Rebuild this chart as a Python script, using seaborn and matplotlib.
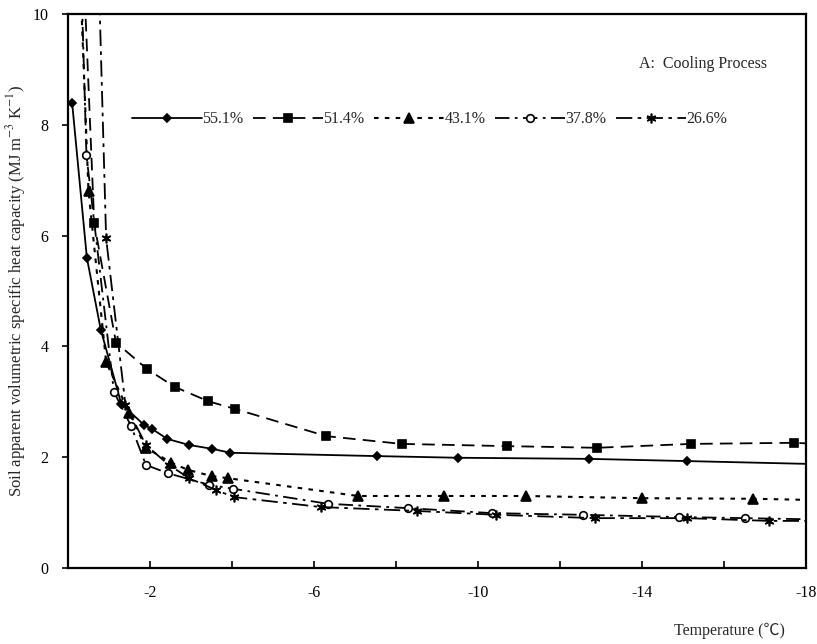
import matplotlib
matplotlib.use("Agg")
import matplotlib.pyplot as plt
import seaborn as sns
import pandas as pd
from matplotlib.ticker import FixedLocator

sns.set_theme(style="ticks")
plt.rcParams['font.family'] = ['Liberation Serif', 'Noto Sans CJK SC', 'DejaVu Sans']
plt.rcParams['mathtext.fontset'] = 'stix'

# ---- data ----
t_551 = [-0.1, -0.46, -0.8, -1.3, -1.86, -2.05, -2.42, -2.96, -3.52, -3.96, -7.53, -9.51, -12.7, -15.1, -18.0]
c_551 = [8.4, 5.6, 4.3, 2.96, 2.58, 2.51, 2.33, 2.22, 2.15, 2.08, 2.02, 1.99, 1.97, 1.93, 1.88]

t_514 = [-0.37, -0.64, -1.17, -1.93, -2.6, -3.42, -4.08, -6.3, -8.14, -10.7, -12.9, -15.2, -17.7, -18.0]
c_514 = [11.0, 6.22, 4.07, 3.59, 3.27, 3.01, 2.87, 2.38, 2.24, 2.20, 2.17, 2.24, 2.26, 2.25]

t_431 = [-0.28, -0.5, -0.93, -1.49, -1.9, -2.52, -2.93, -3.5, -3.91, -7.07, -9.17, -11.17, -14.0, -16.7, -18.0]
c_431 = [11.0, 6.8, 3.72, 2.80, 2.17, 1.90, 1.77, 1.66, 1.62, 1.30, 1.30, 1.30, 1.26, 1.25, 1.23]

t_378 = [-0.27, -0.45, -1.12, -1.54, -1.9, -2.44, -3.45, -4.03, -6.33, -8.3, -10.35, -12.57, -14.9, -16.5, -18.0]
c_378 = [12.0, 7.45, 3.18, 2.56, 1.86, 1.71, 1.50, 1.43, 1.16, 1.08, 0.99, 0.96, 0.92, 0.90, 0.88]

t_266 = [-0.7, -0.93, -1.4, -1.9, -2.46, -2.96, -3.6, -4.05, -6.17, -8.5, -10.45, -12.85, -15.1, -17.1, -18.0]
c_266 = [12.0, 5.95, 2.95, 2.22, 1.86, 1.62, 1.41, 1.28, 1.10, 1.03, 0.96, 0.90, 0.90, 0.85, 0.85]

labels = ["55.1%", "51.4%", "43.1%", "37.8%", "26.6%"]
x_ticks = [-2, -6, -10, -14, -18]
y_ticks = [0, 2, 4, 6, 8, 10]

series = [(labels[0], t_551, c_551), (labels[1], t_514, c_514), (labels[2], t_431, c_431),
          (labels[3], t_378, c_378), (labels[4], t_266, c_266)]
df = pd.concat([pd.DataFrame({"T": t, "C": c, "s": s}) for s, t, c in series], ignore_index=True)

styles = {
    "55.1%": dict(linestyle="-", marker="D", ms=4.5, mfc="black", lw=1.3),
    "51.4%": dict(linestyle=(0, (7, 4)), marker="s", ms=6, mfc="black", lw=1.3),
    "43.1%": dict(linestyle=(0, (2.2, 3)), marker="^", ms=6.5, mfc="black", lw=1.5),
    "37.8%": dict(linestyle=(0, (8, 3, 1.5, 3)), marker="o", ms=5.5, mfc="white", lw=1.3),
    "26.6%": dict(linestyle=(0, (9, 3, 2, 3)), marker=(6, 2, 0), ms=7, mfc="black", lw=1.3),
}

fig = plt.figure(figsize=(8.17, 6.44), dpi=100)
ax = fig.add_axes([68 / 817, 1 - 568 / 644, (806 - 68) / 817, (568 - 14) / 644])

for s in labels:
    sub = df[df["s"] == s].reset_index(drop=True)
    st = styles[s]
    n = len(sub)
    me = [i for i in range(n) if 0 <= sub["C"][i] <= 10 and sub["T"][i] > -17.95]
    sns.lineplot(data=sub, x="T", y="C", ax=ax, sort=False, color="black",
                 linestyle=st["linestyle"], marker=st["marker"], markersize=st["ms"],
                 markerfacecolor=st["mfc"], markeredgecolor="black", markeredgewidth=1.2,
                 linewidth=st["lw"], markevery=me, label=s, legend=False)

ax.set_xlim(0, -18)
ax.set_ylim(0, 10)
ax.xaxis.set_major_locator(FixedLocator(x_ticks))
ax.xaxis.set_minor_locator(FixedLocator([-4, -8, -12, -16]))
ax.set_xticklabels([str(v) for v in x_ticks])
ax.yaxis.set_major_locator(FixedLocator(y_ticks))
ax.set_yticklabels([str(v) for v in y_ticks])
ax.tick_params(axis="x", which="both", direction="in", length=5, width=1.2, pad=12,
               labelsize=11.5, colors="black", top=False)
ax.tick_params(axis="y", which="major", direction="out", length=4, width=1.2, pad=10,
               labelsize=11.5, colors="black", right=False)
for sp in ax.spines.values():
    sp.set_visible(True)
    sp.set_linewidth(1.6)
    sp.set_color("black")

ax.set_xlabel("")
ax.set_ylabel("Soil apparent volumetric specific heat capacity (MJ m$^{-3}$ K$^{-1}$)",
              fontsize=12, labelpad=3)
fig.text(0.893, 0.008, "Temperature (℃)", fontsize=11.5, ha="center", va="bottom",
         family=['Liberation Serif', 'Noto Sans CJK SC'])
ax.text(0.947, 0.91, "A:  Cooling Process", transform=ax.transAxes, fontsize=11.5,
        ha="right", va="center")

leg = ax.legend(loc="center", bbox_to_anchor=(0.49, 0.81), ncol=5, frameon=False,
                fontsize=11.5, handlelength=4.4, handletextpad=0.0, columnspacing=0.6)

fig.savefig("out.png", dpi=100, facecolor="white")
